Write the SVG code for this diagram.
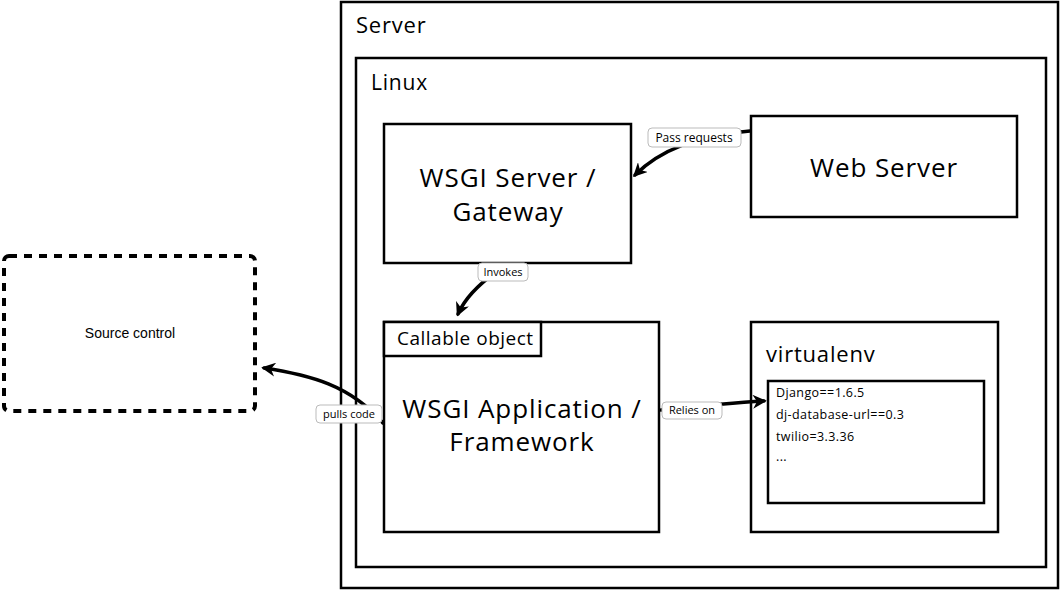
<svg xmlns="http://www.w3.org/2000/svg" width="1062" height="591" viewBox="0 0 1062 591">
  <style>
    .box { fill: #fff; stroke: #000; stroke-width: 2.5; }
    .big { font-family: "Open Sans", "Liberation Sans", sans-serif; font-size: 26px; letter-spacing: 0.9px; fill: #000; text-anchor: middle; }
    .title { font-family: "Open Sans", "Liberation Sans", sans-serif; font-size: 21px; letter-spacing: 0.8px; fill: #000; }
    .small { font-family: "Open Sans", "Liberation Sans", sans-serif; font-size: 12.5px; letter-spacing: 0.4px; fill: #000; }
    .lbl { fill: #fff; stroke: #bbb; stroke-width: 1; }
    .lbltext { font-family: "Open Sans", "Liberation Sans", sans-serif; font-size: 12px; fill: #000; text-anchor: middle; }
    .edge { fill: none; stroke: #000; stroke-width: 3.5; stroke-linecap: round; }
  </style>
  <defs>
    <marker id="arrow" viewBox="0 0 10 10" refX="8" refY="5" markerWidth="4" markerHeight="4" orient="auto">
      <path d="M0,0 L10,5 L0,10 L3,5 Z" fill="#000"/>
    </marker>
  </defs>
  <rect width="1062" height="591" fill="#fff"/>

  <g id="server">
    <rect class="box" x="341" y="2" width="717" height="586"/>
    <text class="title" x="356" y="33" style="font-size:22px">Server</text>
  </g>
  <g id="linux">
    <rect class="box" x="356" y="58" width="690" height="509"/>
    <text class="title" x="371" y="90">Linux</text>
  </g>
  <g id="wsgi-server">
    <rect class="box" x="384" y="124" width="247" height="139"/>
    <text class="big" x="508" y="187">WSGI Server /</text>
    <text class="big" x="508" y="221">Gateway</text>
  </g>
  <g id="web-server">
    <rect class="box" x="751" y="116" width="266" height="101"/>
    <text class="big" x="884" y="177">Web Server</text>
  </g>
  <g id="wsgi-app">
    <rect class="box" x="384" y="322" width="275" height="210"/>
    <rect class="box" x="384" y="322" width="157" height="34"/>
    <text class="title" x="397" y="345" style="font-size:19px;letter-spacing:0.5px">Callable object</text>
    <text class="big" x="522" y="418">WSGI Application /</text>
    <text class="big" x="522" y="451">Framework</text>
  </g>
  <g id="virtualenv">
    <rect class="box" x="751" y="322" width="247" height="210"/>
    <text class="title" x="766" y="362" style="font-size:22px">virtualenv</text>
    <rect class="box" x="768" y="381" width="216" height="122"/>
    <text class="small" x="776" y="397">Django==1.6.5</text>
    <text class="small" x="776" y="419">dj-database-url==0.3</text>
    <text class="small" x="776" y="441">twilio=3.3.36</text>
    <text class="small" x="776" y="461">...</text>
  </g>
  <g id="source-control">
    <rect x="4" y="256" width="251" height="155" rx="5" fill="#fff" stroke="#000" stroke-width="4" stroke-dasharray="8,7"/>
    <text x="130" y="338" style="font-family:'Liberation Sans',Arial,sans-serif;font-size:14px;text-anchor:middle">Source control</text>
  </g>

  <g id="connectors">
    <path class="edge" d="M750,131 C700,135 660,150 635,175" marker-end="url(#arrow)"/>
    <path class="edge" d="M496,272 C478,285 465,298 458,314" marker-end="url(#arrow)"/>
    <path class="edge" d="M383,423 C350,385 310,375 264,368" marker-end="url(#arrow)"/>
    <path class="edge" d="M661,410 C700,406 730,403 764,401" marker-end="url(#arrow)"/>

    <rect class="lbl" x="648" y="128" width="93" height="19" rx="4"/>
    <text class="lbltext" x="694" y="142">Pass requests</text>
    <rect class="lbl" x="478" y="263" width="50" height="18" rx="4"/>
    <text class="lbltext" x="503" y="276" style="font-size:11px">Invokes</text>
    <rect class="lbl" x="316" y="405" width="66" height="18" rx="4"/>
    <text class="lbltext" x="349" y="418" style="font-size:11px">pulls code</text>
    <rect class="lbl" x="662" y="402" width="60" height="17" rx="4"/>
    <text class="lbltext" x="692" y="414" style="font-size:11px">Relies on</text>
  </g>
</svg>
